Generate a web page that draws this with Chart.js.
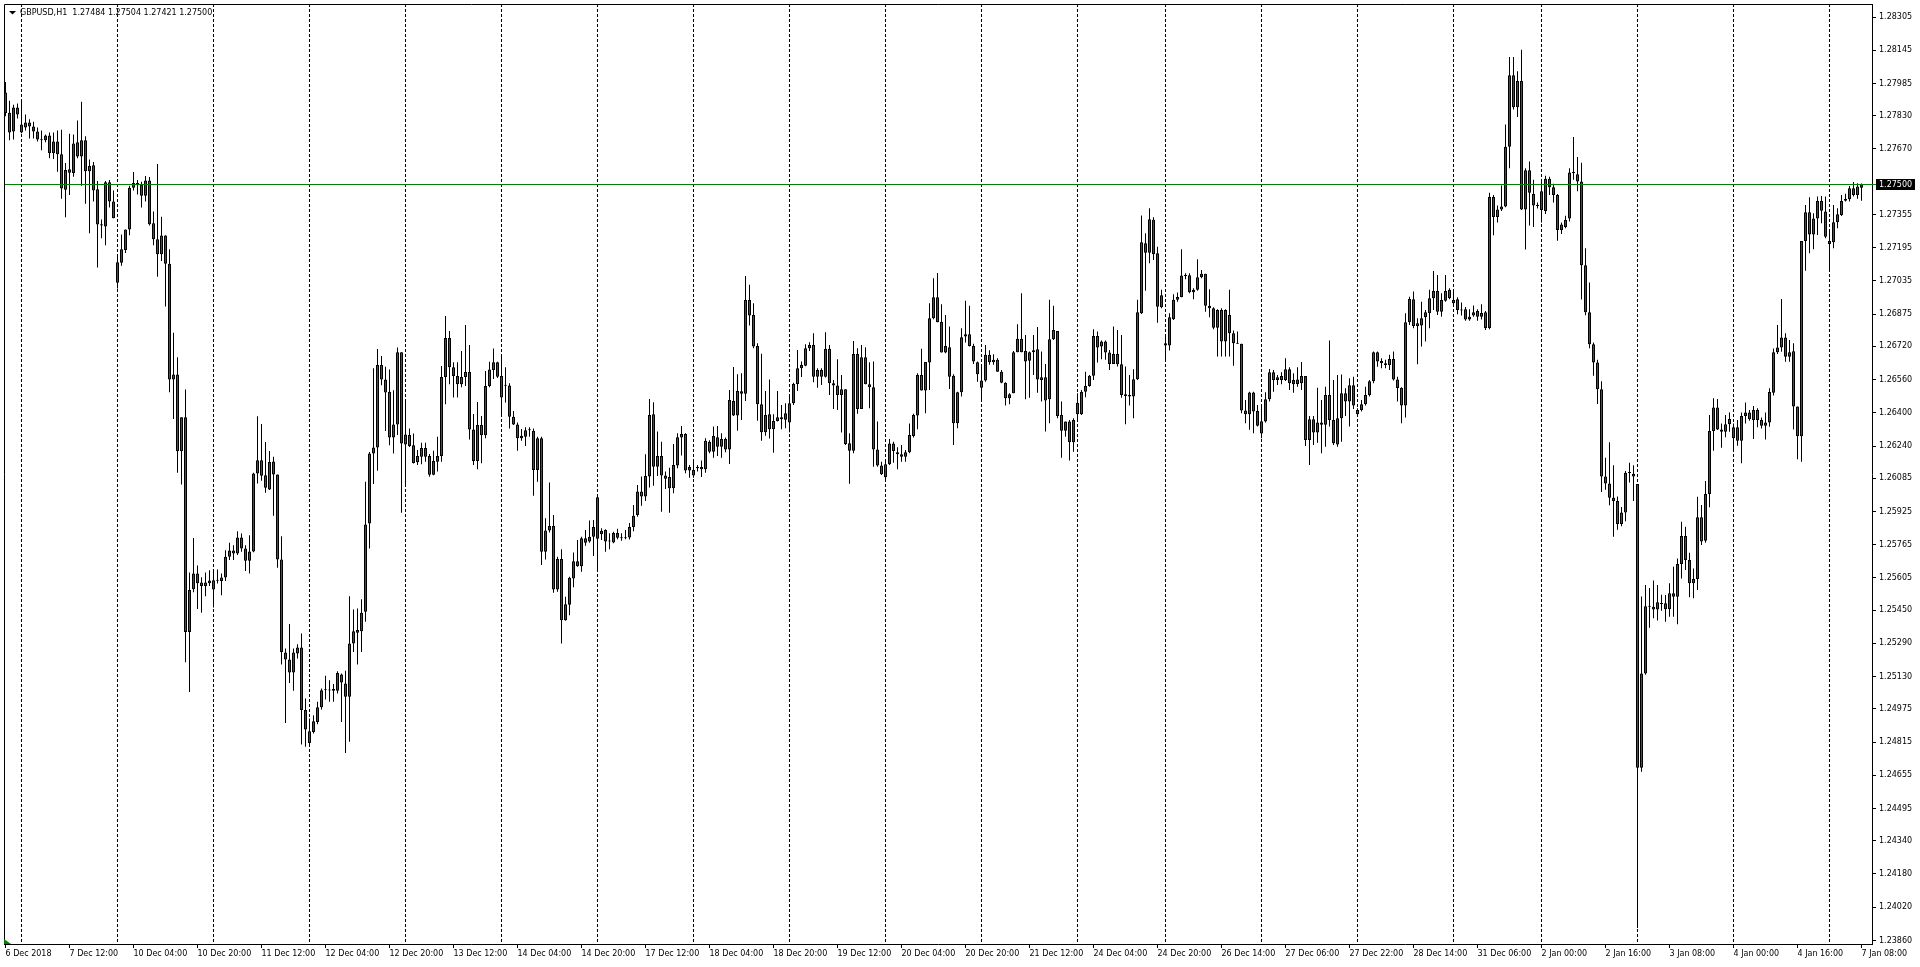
<!DOCTYPE html>
<html>
<head>
<meta charset="utf-8">
<title>GBPUSD,H1</title>
<script src="https://cdn.jsdelivr.net/npm/chart.js@4.4.0/dist/chart.umd.min.js"></script>
<style>
  html, body { margin: 0; padding: 0; background: #fff; }
  #wrap { width: 1920px; height: 967px; }
  canvas { display: block; }
</style>
</head>
<body>
<div id="wrap"><canvas id="myChart" width="1920" height="967"></canvas></div>
<script>
// GBPUSD H1, una vela por hora, desde 6 Dec 2018 20:00 hasta 7 Jan 2019 08:00
const simbolo = 'GBPUSD';
const periodo = 'H1';

// sesiones: [dia, primera hora, cantidad de velas]
const sesiones = [
  ['6 Dec', 20, 4], ['7 Dec', 0, 24], ['10 Dec', 0, 24], ['11 Dec', 0, 24], ['12 Dec', 0, 24],
  ['13 Dec', 0, 24], ['14 Dec', 0, 24], ['17 Dec', 0, 24], ['18 Dec', 0, 24], ['19 Dec', 0, 24],
  ['20 Dec', 0, 24], ['21 Dec', 0, 24], ['24 Dec', 0, 22], ['26 Dec', 0, 24], ['27 Dec', 0, 24],
  ['28 Dec', 0, 24], ['31 Dec', 0, 22], ['2 Jan', 0, 24], ['3 Jan', 0, 24], ['4 Jan', 0, 24],
  ['7 Jan', 0, 9]
];

const opens = [
  1.27942, 1.27845, 1.27754, 1.27870, 1.27750, 1.27773, 1.27798, 1.27778, 1.27754, 1.27716,
  1.27712, 1.27735, 1.27649, 1.27706, 1.27645, 1.27474, 1.27573, 1.27554, 1.27702, 1.27634,
  1.27712, 1.27563, 1.27592, 1.27476, 1.27308, 1.27297, 1.27510, 1.27417, 1.27026, 1.27122,
  1.27184, 1.27283, 1.27483, 1.27495, 1.27497, 1.27445, 1.27518, 1.27312, 1.27236, 1.27163,
  1.27253, 1.27118, 1.26560, 1.26585, 1.26215, 1.26379, 1.25345, 1.25551, 1.25627, 1.25583,
  1.25566, 1.25579, 1.25550, 1.25594, 1.25591, 1.25607, 1.25707, 1.25737, 1.25723, 1.25800,
  1.25747, 1.25688, 1.25732, 1.26108, 1.26172, 1.26100, 1.26031, 1.26166, 1.26103, 1.25694,
  1.25246, 1.25212, 1.25150, 1.25241, 1.25270, 1.24969, 1.24811, 1.24864, 1.24912, 1.24983,
  1.25065, 1.25065, 1.25062, 1.25062, 1.25140, 1.25097, 1.25033, 1.25290, 1.25341, 1.25349,
  1.25442, 1.25867, 1.26204, 1.26233, 1.26630, 1.26561, 1.26501, 1.26281, 1.26344, 1.26691,
  1.26296, 1.26293, 1.26244, 1.26162, 1.26189, 1.26231, 1.26192, 1.26102, 1.26165, 1.26192,
  1.26572, 1.26760, 1.26619, 1.26577, 1.26537, 1.26572, 1.26596, 1.26320, 1.26168, 1.26341,
  1.26292, 1.26529, 1.26606, 1.26643, 1.26474, 1.26532, 1.26532, 1.26381, 1.26344, 1.26277,
  1.26285, 1.26317, 1.26314, 1.26125, 1.26277, 1.25731, 1.25834, 1.25855, 1.25550, 1.25696,
  1.25401, 1.25476, 1.25603, 1.25686, 1.25661, 1.25796, 1.25780, 1.25804, 1.25993, 1.25832,
  1.25836, 1.25780, 1.25776, 1.25821, 1.25797, 1.25796, 1.25800, 1.25850, 1.25908, 1.26021,
  1.25997, 1.26093, 1.26393, 1.26141, 1.26192, 1.26098, 1.26091, 1.26037, 1.26146, 1.26281,
  1.26298, 1.26122, 1.26098, 1.26133, 1.26139, 1.26128, 1.26261, 1.26213, 1.26282, 1.26237,
  1.26274, 1.26224, 1.26457, 1.26387, 1.26492, 1.26492, 1.26943, 1.26871, 1.26722, 1.26441,
  1.26306, 1.26393, 1.26321, 1.26361, 1.26369, 1.26367, 1.26354, 1.26446, 1.26539, 1.26615,
  1.26627, 1.26711, 1.26727, 1.26574, 1.26606, 1.26574, 1.26708, 1.26542, 1.26531, 1.26486,
  1.26513, 1.26253, 1.26218, 1.26683, 1.26419, 1.26667, 1.26537, 1.26523, 1.26224, 1.26146,
  1.26090, 1.26152, 1.26252, 1.26210, 1.26200, 1.26189, 1.26210, 1.26289, 1.26387, 1.26582,
  1.26507, 1.26642, 1.26855, 1.26956, 1.26839, 1.26690, 1.26716, 1.26578, 1.26350, 1.26499,
  1.26767, 1.26778, 1.26722, 1.26643, 1.26521, 1.26555, 1.26679, 1.26643, 1.26655, 1.26598,
  1.26545, 1.26470, 1.26494, 1.26692, 1.26756, 1.26698, 1.26651, 1.26692, 1.26706, 1.26571,
  1.26571, 1.26465, 1.26754, 1.26794, 1.26390, 1.26314, 1.26358, 1.26258, 1.26448, 1.26393,
  1.26501, 1.26529, 1.26578, 1.26770, 1.26719, 1.26743, 1.26690, 1.26635, 1.26683, 1.26634,
  1.26489, 1.26486, 1.26478, 1.26562, 1.26879, 1.27216, 1.27171, 1.27329, 1.27168, 1.26908,
  1.26735, 1.26724, 1.26850, 1.26944, 1.26956, 1.27061, 1.27062, 1.26980, 1.26992, 1.27053,
  1.27069, 1.26916, 1.26903, 1.26810, 1.26895, 1.26743, 1.26871, 1.26783, 1.26735, 1.26732,
  1.26411, 1.26393, 1.26498, 1.26409, 1.26301, 1.26358, 1.26465, 1.26595, 1.26558, 1.26577,
  1.26558, 1.26610, 1.26537, 1.26561, 1.26542, 1.26577, 1.26269, 1.26369, 1.26305, 1.26354,
  1.26343, 1.26486, 1.26366, 1.26247, 1.26374, 1.26494, 1.26454, 1.26533, 1.26393, 1.26414,
  1.26441, 1.26486, 1.26552, 1.26691, 1.26650, 1.26639, 1.26629, 1.26659, 1.26561, 1.26520,
  1.26435, 1.26836, 1.26947, 1.26831, 1.26820, 1.26860, 1.26879, 1.26951, 1.26987, 1.26887,
  1.26940, 1.26992, 1.26943, 1.26947, 1.26895, 1.26898, 1.26849, 1.26868, 1.26890, 1.26862,
  1.26884, 1.26808, 1.27439, 1.27343, 1.27379, 1.27393, 1.27681, 1.28025, 1.27871, 1.27997,
  1.27379, 1.27568, 1.27453, 1.27398, 1.27467, 1.27371, 1.27527, 1.27486, 1.27448, 1.27280,
  1.27294, 1.27335, 1.27557, 1.27549, 1.27514, 1.27110, 1.26884, 1.26730, 1.26642, 1.26513,
  1.26093, 1.26060, 1.25991, 1.25975, 1.25865, 1.25920, 1.26112, 1.26107, 1.26057, 1.24691,
  1.25145, 1.25469, 1.25466, 1.25453, 1.25483, 1.25483, 1.25454, 1.25531, 1.25515, 1.25672,
  1.25807, 1.25691, 1.25579, 1.25600, 1.25897, 1.25784, 1.26009, 1.26312, 1.26426, 1.26320,
  1.26309, 1.26345, 1.26277, 1.26330, 1.26266, 1.26385, 1.26402, 1.26365, 1.26414, 1.26365,
  1.26338, 1.26353, 1.26497, 1.26691, 1.26715, 1.26763, 1.26670, 1.26696, 1.26430, 1.26287,
  1.27227, 1.27365, 1.27259, 1.27336, 1.27420, 1.27369, 1.27213, 1.27221, 1.27317, 1.27352,
  1.27421, 1.27428, 1.27481, 1.27449, 1.27484
];

const highs = [
  1.27992, 1.27902, 1.27883, 1.27889, 1.27902, 1.27836, 1.27813, 1.27801, 1.27773, 1.27759,
  1.27740, 1.27750, 1.27750, 1.27759, 1.27763, 1.27603, 1.27744, 1.27740, 1.27807, 1.27897,
  1.27731, 1.27620, 1.27607, 1.27516, 1.27331, 1.27516, 1.27521, 1.27470, 1.27163, 1.27259,
  1.27283, 1.27493, 1.27559, 1.27521, 1.27512, 1.27540, 1.27535, 1.27369, 1.27598, 1.27344,
  1.27255, 1.27188, 1.26785, 1.26668, 1.26379, 1.26512, 1.25631, 1.25798, 1.25665, 1.25608,
  1.25631, 1.25642, 1.25646, 1.25646, 1.25627, 1.25739, 1.25774, 1.25763, 1.25830, 1.25819,
  1.25763, 1.25811, 1.26111, 1.26384, 1.26346, 1.26260, 1.26216, 1.26188, 1.26103, 1.25806,
  1.25265, 1.25383, 1.25265, 1.25286, 1.25338, 1.25025, 1.24928, 1.24944, 1.25009, 1.25073,
  1.25134, 1.25113, 1.25094, 1.25156, 1.25145, 1.25158, 1.25517, 1.25453, 1.25458, 1.25503,
  1.26068, 1.26212, 1.26614, 1.26707, 1.26673, 1.26622, 1.26609, 1.26509, 1.26715, 1.26691,
  1.26461, 1.26325, 1.26301, 1.26221, 1.26256, 1.26256, 1.26202, 1.26218, 1.26285, 1.26625,
  1.26866, 1.26794, 1.26643, 1.26643, 1.26698, 1.26823, 1.26726, 1.26394, 1.26452, 1.26385,
  1.26601, 1.26646, 1.26710, 1.26646, 1.26678, 1.26619, 1.26542, 1.26409, 1.26354, 1.26322,
  1.26330, 1.26330, 1.26325, 1.26285, 1.26285, 1.25892, 1.26064, 1.25908, 1.25707, 1.25743,
  1.25515, 1.25611, 1.25728, 1.25788, 1.25804, 1.25836, 1.25882, 1.25884, 1.25996, 1.25844,
  1.25839, 1.25820, 1.25828, 1.25842, 1.25820, 1.25836, 1.25870, 1.25956, 1.26053, 1.26093,
  1.26200, 1.26467, 1.26451, 1.26310, 1.26261, 1.26117, 1.26136, 1.26250, 1.26302, 1.26337,
  1.26302, 1.26149, 1.26168, 1.26149, 1.26170, 1.26277, 1.26268, 1.26334, 1.26337, 1.26302,
  1.26281, 1.26510, 1.26621, 1.26586, 1.26590, 1.27059, 1.27016, 1.26927, 1.26735, 1.26684,
  1.26505, 1.26561, 1.26393, 1.26505, 1.26438, 1.26446, 1.26478, 1.26545, 1.26703, 1.26647,
  1.26730, 1.26740, 1.26783, 1.26615, 1.26615, 1.26788, 1.26727, 1.26558, 1.26658, 1.26582,
  1.26513, 1.26302, 1.26746, 1.26711, 1.26727, 1.26716, 1.26643, 1.26647, 1.26358, 1.26165,
  1.26165, 1.26274, 1.26261, 1.26234, 1.26245, 1.26221, 1.26348, 1.26395, 1.26590, 1.26708,
  1.26645, 1.26927, 1.27048, 1.27073, 1.26923, 1.26871, 1.26815, 1.26586, 1.26502, 1.26807,
  1.26939, 1.26916, 1.26732, 1.26647, 1.26631, 1.26727, 1.26701, 1.26682, 1.26663, 1.26606,
  1.26547, 1.26494, 1.26698, 1.26826, 1.26976, 1.26775, 1.26695, 1.26775, 1.26813, 1.26695,
  1.26635, 1.26944, 1.26915, 1.26794, 1.26454, 1.26358, 1.26366, 1.26374, 1.26494, 1.26510,
  1.26598, 1.26582, 1.26802, 1.26791, 1.26748, 1.26748, 1.26703, 1.26815, 1.26799, 1.26775,
  1.26623, 1.26582, 1.26610, 1.26944, 1.27350, 1.27265, 1.27385, 1.27342, 1.27200, 1.26992,
  1.26767, 1.26879, 1.26971, 1.26979, 1.27187, 1.27072, 1.27072, 1.27000, 1.27139, 1.27088,
  1.27069, 1.26995, 1.26908, 1.26899, 1.26903, 1.26899, 1.26992, 1.26796, 1.26791, 1.26732,
  1.26462, 1.26501, 1.26501, 1.26438, 1.26438, 1.26499, 1.26611, 1.26606, 1.26582, 1.26595,
  1.26663, 1.26619, 1.26590, 1.26619, 1.26645, 1.26577, 1.26385, 1.26385, 1.26521, 1.26462,
  1.26526, 1.26748, 1.26558, 1.26582, 1.26585, 1.26518, 1.26566, 1.26574, 1.26422, 1.26462,
  1.26526, 1.26558, 1.26695, 1.26695, 1.26663, 1.26655, 1.26679, 1.26695, 1.26574, 1.26523,
  1.26879, 1.26959, 1.26984, 1.26855, 1.26935, 1.26895, 1.26992, 1.27083, 1.27064, 1.26976,
  1.27064, 1.27000, 1.26987, 1.26956, 1.26931, 1.26909, 1.26898, 1.26917, 1.26898, 1.26923,
  1.26890, 1.27459, 1.27448, 1.27398, 1.27494, 1.27788, 1.28113, 1.28113, 1.28044, 1.28148,
  1.27577, 1.27610, 1.27522, 1.27412, 1.27522, 1.27541, 1.27536, 1.27503, 1.27453, 1.27316,
  1.27349, 1.27577, 1.27728, 1.27632, 1.27604, 1.27192, 1.27027, 1.26739, 1.26656, 1.26552,
  1.26184, 1.26258, 1.26148, 1.25997, 1.25947, 1.26120, 1.26160, 1.26148, 1.26057, 1.25516,
  1.25571, 1.25557, 1.25593, 1.25571, 1.25524, 1.25523, 1.25579, 1.25659, 1.25699, 1.25876,
  1.25852, 1.25727, 1.25651, 1.25996, 1.25956, 1.26072, 1.26390, 1.26470, 1.26467, 1.26349,
  1.26390, 1.26401, 1.26349, 1.26365, 1.26401, 1.26450, 1.26414, 1.26433, 1.26422, 1.26378,
  1.26401, 1.26518, 1.26710, 1.26823, 1.26948, 1.26783, 1.26751, 1.26735, 1.26430, 1.27227,
  1.27401, 1.27438, 1.27361, 1.27441, 1.27444, 1.27441, 1.27272, 1.27401, 1.27385, 1.27449,
  1.27454, 1.27492, 1.27511, 1.27505, 1.27504
];

const lows = [
  1.27828, 1.27712, 1.27716, 1.27817, 1.27746, 1.27759, 1.27721, 1.27721, 1.27706, 1.27664,
  1.27702, 1.27626, 1.27622, 1.27560, 1.27430, 1.27341, 1.27449, 1.27537, 1.27626, 1.27493,
  1.27407, 1.27264, 1.27417, 1.27099, 1.27240, 1.27207, 1.27388, 1.27337, 1.26998, 1.27108,
  1.27169, 1.27255, 1.27470, 1.27451, 1.27388, 1.27417, 1.27302, 1.27207, 1.27055, 1.27131,
  1.26912, 1.26499, 1.26370, 1.26112, 1.26055, 1.25199, 1.25056, 1.25536, 1.25456, 1.25437,
  1.25517, 1.25566, 1.25463, 1.25578, 1.25522, 1.25591, 1.25691, 1.25691, 1.25715, 1.25731,
  1.25639, 1.25627, 1.25729, 1.26060, 1.26073, 1.26015, 1.26028, 1.25904, 1.25654, 1.25188,
  1.24907, 1.25100, 1.25062, 1.25217, 1.24803, 1.24792, 1.24803, 1.24856, 1.24901, 1.24972,
  1.25020, 1.25009, 1.25009, 1.25049, 1.24912, 1.24763, 1.24816, 1.25249, 1.25188, 1.25249,
  1.25394, 1.25747, 1.26057, 1.26121, 1.26533, 1.26313, 1.26244, 1.26204, 1.26293, 1.25919,
  1.26044, 1.26236, 1.26156, 1.26149, 1.26153, 1.26165, 1.26092, 1.26100, 1.26117, 1.26165,
  1.26441, 1.26537, 1.26474, 1.26474, 1.26523, 1.26529, 1.26272, 1.26149, 1.26128, 1.26157,
  1.26277, 1.26523, 1.26563, 1.26568, 1.26381, 1.26450, 1.26325, 1.26341, 1.26218, 1.26266,
  1.26240, 1.26285, 1.26001, 1.26068, 1.25667, 1.25694, 1.25824, 1.25534, 1.25539, 1.25290,
  1.25399, 1.25426, 1.25560, 1.25659, 1.25635, 1.25760, 1.25775, 1.25711, 1.25640, 1.25788,
  1.25731, 1.25743, 1.25772, 1.25791, 1.25784, 1.25791, 1.25790, 1.25830, 1.25900, 1.25953,
  1.25976, 1.26040, 1.26049, 1.26096, 1.25924, 1.26033, 1.25919, 1.26013, 1.26133, 1.26194,
  1.26109, 1.26088, 1.26088, 1.26117, 1.26091, 1.26112, 1.26205, 1.26184, 1.26192, 1.26184,
  1.26210, 1.26154, 1.26385, 1.26314, 1.26366, 1.26457, 1.26820, 1.26711, 1.26362, 1.26266,
  1.26290, 1.26276, 1.26208, 1.26358, 1.26321, 1.26326, 1.26306, 1.26438, 1.26505, 1.26573,
  1.26624, 1.26698, 1.26547, 1.26521, 1.26534, 1.26570, 1.26486, 1.26419, 1.26414, 1.26305,
  1.26245, 1.26058, 1.26205, 1.26395, 1.26419, 1.26537, 1.26422, 1.26141, 1.26141, 1.26101,
  1.26072, 1.26149, 1.26160, 1.26128, 1.26165, 1.26165, 1.26205, 1.26281, 1.26321, 1.26507,
  1.26398, 1.26510, 1.26850, 1.26836, 1.26690, 1.26687, 1.26515, 1.26245, 1.26326, 1.26478,
  1.26738, 1.26719, 1.26635, 1.26550, 1.26454, 1.26550, 1.26631, 1.26631, 1.26598, 1.26542,
  1.26435, 1.26441, 1.26494, 1.26692, 1.26692, 1.26465, 1.26473, 1.26582, 1.26497, 1.26454,
  1.26310, 1.26350, 1.26751, 1.26374, 1.26184, 1.26285, 1.26170, 1.26213, 1.26366, 1.26390,
  1.26475, 1.26526, 1.26558, 1.26642, 1.26658, 1.26655, 1.26606, 1.26635, 1.26623, 1.26473,
  1.26345, 1.26435, 1.26374, 1.26558, 1.26876, 1.26988, 1.27120, 1.27136, 1.26834, 1.26903,
  1.26651, 1.26700, 1.26847, 1.26935, 1.26956, 1.27043, 1.26976, 1.26947, 1.26988, 1.27048,
  1.26887, 1.26860, 1.26802, 1.26671, 1.26671, 1.26671, 1.26671, 1.26627, 1.26732, 1.26398,
  1.26350, 1.26318, 1.26302, 1.26334, 1.26277, 1.26353, 1.26454, 1.26502, 1.26534, 1.26537,
  1.26553, 1.26510, 1.26497, 1.26526, 1.26510, 1.26240, 1.26149, 1.26245, 1.26256, 1.26205,
  1.26237, 1.26334, 1.26245, 1.26237, 1.26261, 1.26385, 1.26334, 1.26419, 1.26390, 1.26406,
  1.26435, 1.26478, 1.26542, 1.26622, 1.26614, 1.26614, 1.26606, 1.26555, 1.26454, 1.26350,
  1.26378, 1.26823, 1.26807, 1.26634, 1.26719, 1.26743, 1.26807, 1.26895, 1.26871, 1.26863,
  1.26935, 1.26947, 1.26919, 1.26874, 1.26868, 1.26843, 1.26843, 1.26862, 1.26843, 1.26849,
  1.26799, 1.26802, 1.27255, 1.27316, 1.27371, 1.27390, 1.27577, 1.27860, 1.27824, 1.27376,
  1.27186, 1.27302, 1.27294, 1.27384, 1.27316, 1.27357, 1.27448, 1.27412, 1.27228, 1.27261,
  1.27288, 1.27321, 1.27522, 1.27467, 1.26945, 1.26870, 1.26711, 1.26579, 1.26442, 1.26019,
  1.26030, 1.25955, 1.25804, 1.25837, 1.25854, 1.25878, 1.26065, 1.25975, 1.23920, 1.24672,
  1.25139, 1.25365, 1.25411, 1.25400, 1.25447, 1.25394, 1.25418, 1.25418, 1.25382, 1.25603,
  1.25643, 1.25512, 1.25507, 1.25547, 1.25764, 1.25775, 1.25945, 1.26218, 1.26317, 1.26232,
  1.26282, 1.26309, 1.26221, 1.26242, 1.26157, 1.26349, 1.26362, 1.26274, 1.26330, 1.26325,
  1.26272, 1.26333, 1.26483, 1.26683, 1.26694, 1.26646, 1.26646, 1.26320, 1.26176, 1.26165,
  1.27084, 1.27168, 1.27187, 1.27256, 1.27312, 1.27240, 1.27088, 1.27192, 1.27288, 1.27348,
  1.27417, 1.27417, 1.27441, 1.27430, 1.27421
];

const closes = [
  1.27843, 1.27750, 1.27870, 1.27836, 1.27788, 1.27798, 1.27778, 1.27754, 1.27716, 1.27712,
  1.27735, 1.27649, 1.27706, 1.27645, 1.27480, 1.27569, 1.27556, 1.27697, 1.27634, 1.27712,
  1.27563, 1.27588, 1.27470, 1.27306, 1.27302, 1.27510, 1.27417, 1.27337, 1.27125, 1.27188,
  1.27283, 1.27483, 1.27506, 1.27506, 1.27445, 1.27518, 1.27308, 1.27236, 1.27163, 1.27253,
  1.27118, 1.26560, 1.26585, 1.26215, 1.26379, 1.25345, 1.25547, 1.25627, 1.25579, 1.25566,
  1.25583, 1.25593, 1.25594, 1.25592, 1.25607, 1.25707, 1.25737, 1.25723, 1.25800, 1.25747,
  1.25688, 1.25732, 1.26108, 1.26172, 1.26097, 1.26039, 1.26163, 1.26103, 1.25694, 1.25249,
  1.25212, 1.25150, 1.25246, 1.25270, 1.24969, 1.24875, 1.24867, 1.24915, 1.24983, 1.25065,
  1.25066, 1.25063, 1.25070, 1.25148, 1.25102, 1.25033, 1.25290, 1.25349, 1.25354, 1.25437,
  1.25862, 1.26204, 1.26233, 1.26630, 1.26561, 1.26498, 1.26281, 1.26344, 1.26691, 1.26252,
  1.26247, 1.26240, 1.26159, 1.26192, 1.26231, 1.26189, 1.26102, 1.26168, 1.26192, 1.26572,
  1.26760, 1.26619, 1.26577, 1.26537, 1.26572, 1.26596, 1.26320, 1.26168, 1.26341, 1.26292,
  1.26529, 1.26609, 1.26643, 1.26574, 1.26577, 1.26530, 1.26381, 1.26344, 1.26277, 1.26290,
  1.26316, 1.26316, 1.26125, 1.26277, 1.25731, 1.25834, 1.25855, 1.25550, 1.25696, 1.25401,
  1.25479, 1.25606, 1.25686, 1.25661, 1.25796, 1.25775, 1.25804, 1.25850, 1.25794, 1.25815,
  1.25780, 1.25784, 1.25821, 1.25799, 1.25796, 1.25800, 1.25850, 1.25905, 1.26021, 1.25997,
  1.26096, 1.26390, 1.26141, 1.26192, 1.26098, 1.26083, 1.26037, 1.26149, 1.26282, 1.26298,
  1.26122, 1.26139, 1.26125, 1.26139, 1.26128, 1.26265, 1.26213, 1.26289, 1.26237, 1.26274,
  1.26224, 1.26462, 1.26387, 1.26505, 1.26504, 1.26943, 1.26868, 1.26719, 1.26441, 1.26306,
  1.26390, 1.26321, 1.26361, 1.26379, 1.26379, 1.26398, 1.26446, 1.26539, 1.26615, 1.26631,
  1.26711, 1.26727, 1.26574, 1.26606, 1.26574, 1.26708, 1.26542, 1.26531, 1.26486, 1.26513,
  1.26250, 1.26218, 1.26683, 1.26419, 1.26667, 1.26537, 1.26523, 1.26224, 1.26146, 1.26104,
  1.26152, 1.26252, 1.26216, 1.26200, 1.26189, 1.26210, 1.26293, 1.26390, 1.26582, 1.26507,
  1.26645, 1.26855, 1.26956, 1.26836, 1.26690, 1.26722, 1.26574, 1.26350, 1.26499, 1.26764,
  1.26778, 1.26722, 1.26647, 1.26586, 1.26555, 1.26679, 1.26643, 1.26655, 1.26598, 1.26545,
  1.26470, 1.26489, 1.26692, 1.26756, 1.26692, 1.26647, 1.26692, 1.26701, 1.26561, 1.26558,
  1.26459, 1.26754, 1.26799, 1.26385, 1.26314, 1.26358, 1.26258, 1.26366, 1.26393, 1.26501,
  1.26529, 1.26578, 1.26770, 1.26714, 1.26743, 1.26690, 1.26635, 1.26683, 1.26634, 1.26486,
  1.26481, 1.26478, 1.26562, 1.26884, 1.27221, 1.27171, 1.27332, 1.27163, 1.26911, 1.26966,
  1.26724, 1.26860, 1.26944, 1.26958, 1.27061, 1.27059, 1.26980, 1.26992, 1.27053, 1.27069,
  1.26916, 1.26903, 1.26810, 1.26895, 1.26743, 1.26895, 1.26783, 1.26735, 1.26733, 1.26411,
  1.26393, 1.26498, 1.26406, 1.26338, 1.26359, 1.26465, 1.26595, 1.26558, 1.26571, 1.26558,
  1.26610, 1.26542, 1.26558, 1.26539, 1.26577, 1.26269, 1.26369, 1.26305, 1.26354, 1.26343,
  1.26486, 1.26366, 1.26253, 1.26374, 1.26494, 1.26454, 1.26533, 1.26435, 1.26414, 1.26441,
  1.26486, 1.26552, 1.26691, 1.26647, 1.26639, 1.26630, 1.26659, 1.26561, 1.26520, 1.26435,
  1.26836, 1.26948, 1.26818, 1.26817, 1.26855, 1.26884, 1.26951, 1.26987, 1.26887, 1.26943,
  1.26987, 1.26951, 1.26927, 1.26895, 1.26892, 1.26849, 1.26862, 1.26884, 1.26862, 1.26881,
  1.26808, 1.27439, 1.27343, 1.27379, 1.27393, 1.27681, 1.28025, 1.27871, 1.27997, 1.27379,
  1.27568, 1.27459, 1.27398, 1.27396, 1.27376, 1.27527, 1.27486, 1.27448, 1.27280, 1.27307,
  1.27329, 1.27557, 1.27555, 1.27514, 1.27110, 1.26884, 1.26730, 1.26642, 1.26513, 1.26093,
  1.26060, 1.25991, 1.25975, 1.25865, 1.25920, 1.26112, 1.26110, 1.26093, 1.24691, 1.25145,
  1.25469, 1.25466, 1.25453, 1.25488, 1.25480, 1.25454, 1.25531, 1.25515, 1.25672, 1.25807,
  1.25691, 1.25579, 1.25600, 1.25897, 1.25780, 1.26009, 1.26312, 1.26426, 1.26320, 1.26309,
  1.26345, 1.26370, 1.26330, 1.26266, 1.26385, 1.26402, 1.26369, 1.26414, 1.26365, 1.26338,
  1.26353, 1.26500, 1.26691, 1.26715, 1.26763, 1.26670, 1.26691, 1.26430, 1.26287, 1.27227,
  1.27365, 1.27259, 1.27336, 1.27420, 1.27373, 1.27248, 1.27227, 1.27317, 1.27356, 1.27420,
  1.27430, 1.27481, 1.27449, 1.27489, 1.27500
];

// etiquetas del eje de tiempo, una cada 16 velas
const xTickLabels = [
  '6 Dec 2018', '7 Dec 12:00', '10 Dec 04:00', '10 Dec 20:00', '11 Dec 12:00', '12 Dec 04:00',
  '12 Dec 20:00', '13 Dec 12:00', '14 Dec 04:00', '14 Dec 20:00', '17 Dec 12:00', '18 Dec 04:00',
  '18 Dec 20:00', '19 Dec 12:00', '20 Dec 04:00', '20 Dec 20:00', '21 Dec 12:00', '24 Dec 04:00',
  '24 Dec 20:00', '26 Dec 14:00', '27 Dec 06:00', '27 Dec 22:00', '28 Dec 14:00', '31 Dec 06:00',
  '2 Jan 00:00', '2 Jan 16:00', '3 Jan 08:00', '4 Jan 00:00', '4 Jan 16:00', '7 Jan 08:00'
];
const xTickStep = 16;

// etiquetas del eje de precios
const yTickLabels = [
  1.28305, 1.28145, 1.27985, 1.27830, 1.27670, 1.27355, 1.27195, 1.27035, 1.26875, 1.26720,
  1.26560, 1.26400, 1.26240, 1.26085, 1.25925, 1.25765, 1.25605, 1.25450, 1.25290, 1.25130,
  1.24975, 1.24815, 1.24655, 1.24495, 1.24340, 1.24180, 1.24020, 1.23860
];

// horas de cada vela y comienzo de cada dia
const horas = [];
const inicioDia = [];
sesiones.forEach(([dia, desde, n]) => {
  for (let h = desde; h < desde + n; h++) {
    if (h === 0) inicioDia.push(horas.length);
    horas.push(dia + ' ' + String(h).padStart(2, '0') + ':00');
  }
});

const textoTick = new Map(xTickLabels.map((t, k) => [k * xTickStep, t]));
const diaSet = new Set(inicioDia);
const xTicks = Array.from(new Set([...textoTick.keys(), ...inicioDia])).sort((a, b) => a - b);

const mechas = opens.map((o, i) => ({ x: i, y: [lows[i], highs[i]] }));
const cuerpos = opens.map((o, i) => ({ x: i, y: [o, closes[i]] }));
const colores = opens.map((o, i) => closes[i] >= o ? '#008000' : '#ff0000');

const fuente = '"DejaVu Sans", "Liberation Sans", sans-serif';
Chart.defaults.font.family = fuente;
Chart.defaults.font.size = 8;
Chart.defaults.color = '#000';

// marco, titulo y linea de precio actual
const marcoMT4 = {
  id: 'marcoMT4',
  beforeDraw(chart) {
    const c = chart.ctx;
    c.save();
    c.fillStyle = '#fff';
    c.fillRect(0, 0, chart.width, chart.height);
    c.restore();
  },
  afterDatasetsDraw(chart) {
    const c = chart.ctx;
    const a = chart.chartArea;
    const y = chart.scales.y;
    const ultimo = closes[closes.length - 1];
    const py = Math.round(y.getPixelForValue(ultimo)) + 0.5;
    c.save();
    c.strokeStyle = '#008000';
    c.lineWidth = 1;
    c.beginPath();
    c.moveTo(a.left, py);
    c.lineTo(a.right + 4, py);
    c.stroke();
    c.restore();
  },
  afterDraw(chart) {
    const c = chart.ctx;
    const a = chart.chartArea;
    const y = chart.scales.y;
    const n = closes.length - 1;
    c.save();
    // marco superior e izquierdo
    c.strokeStyle = '#000';
    c.lineWidth = 1;
    c.beginPath();
    c.moveTo(a.left + 0.5, a.bottom + 1);
    c.lineTo(a.left + 0.5, a.top + 0.5);
    c.lineTo(a.right + 1, a.top + 0.5);
    c.stroke();

    // titulo
    c.fillStyle = '#000';
    c.beginPath();
    c.moveTo(9, 11); c.lineTo(16, 11); c.lineTo(12.5, 14.5);
    c.closePath();
    c.fill();
    c.font = '8px ' + fuente;
    c.textBaseline = 'middle';
    c.textAlign = 'left';
    const titulo = simbolo + ',' + periodo + '  ' +
      [opens[n], highs[n], lows[n], closes[n]].map(v => v.toFixed(5)).join(' ');
    c.fillText(titulo, 20, 13);

    // etiqueta del precio actual
    const py = Math.round(y.getPixelForValue(closes[n]));
    c.fillStyle = '#000';
    c.fillRect(a.right + 4, py - 5, 39, 11);
    c.fillStyle = '#fff';
    c.fillText(closes[n].toFixed(5), a.right + 7, py + 0.5);

    // triangulo verde abajo a la izquierda
    c.fillStyle = '#008000';
    c.beginPath();
    c.moveTo(a.left, a.bottom - 5); c.lineTo(a.left, a.bottom); c.lineTo(a.left + 7, a.bottom);
    c.closePath();
    c.fill();
    c.restore();
  }
};

const ctx = document.getElementById('myChart').getContext('2d');
window.myChart = new Chart(ctx, {
  type: 'bar',
  data: {
    datasets: [
      {
        label: 'cuerpo',
        data: cuerpos,
        backgroundColor: colores,
        borderColor: '#000',
        borderWidth: 1,
        borderSkipped: false,
        barThickness: 3,
        minBarLength: 1,
        inflateAmount: 0,
        grouped: false,
        order: 0
      },
      {
        label: 'mecha',
        data: mechas,
        backgroundColor: '#000',
        borderWidth: 0,
        barThickness: 1,
        minBarLength: 1,
        inflateAmount: 0,
        grouped: false,
        order: 1
      }
    ]
  },
  options: {
    responsive: false,
    animation: false,
    events: [],
    layout: { padding: { left: 4, top: 4, right: 0, bottom: 0 } },
    plugins: {
      legend: { display: false },
      tooltip: { enabled: false }
    },
    scales: {
      x: {
        type: 'linear',
        min: -0.375,
        max: horas.length + 1.625,
        offset: false,
        afterBuildTicks: (scale) => { scale.ticks = xTicks.map(v => ({ value: v })); },
        afterFit: (scale) => {
          scale.height = 23;
          scale.paddingLeft = 0;
          scale.paddingRight = 0;
        },
        ticks: {
          autoSkip: false,
          maxRotation: 0,
          minRotation: 0,
          align: 'start',
          padding: 1,
          color: '#000',
          font: { size: 8 },
          callback: (v) => textoTick.has(v) ? textoTick.get(v) : ''
        },
        grid: {
          offset: false,
          lineWidth: 1,
          tickLength: 4,
          color: (c) => (c.tick && diaSet.has(c.tick.value)) ? '#000' : 'rgba(0,0,0,0)',
          tickColor: (c) => (c.tick && textoTick.has(c.tick.value)) ? '#000' : 'rgba(0,0,0,0)'
        },
        border: { display: true, color: '#000', width: 1, dash: [3, 2] }
      },
      y: {
        type: 'linear',
        position: 'right',
        min: 1.23843,
        max: 1.28368,
        afterBuildTicks: (scale) => { scale.ticks = yTickLabels.map(v => ({ value: v })); },
        afterFit: (scale) => {
          scale.width = 48;
          scale.paddingTop = 0;
          scale.paddingBottom = 0;
        },
        ticks: {
          autoSkip: false,
          padding: 3,
          color: '#000',
          font: { size: 8 },
          callback: (v) => Number(v).toFixed(5)
        },
        grid: {
          drawOnChartArea: false,
          tickLength: 4,
          tickColor: '#000'
        },
        border: { display: true, color: '#000', width: 1 }
      }
    }
  },
  plugins: [marcoMT4]
});
</script>
</body>
</html>
